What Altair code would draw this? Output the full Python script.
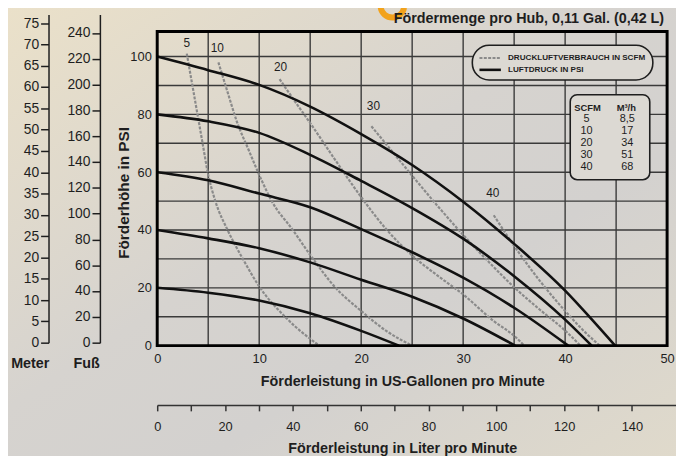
import altair as alt
import pandas as pd

# ---------------- data ----------------
# Air pressure curves (solid): flow in US gpm -> head in PSI
psi_levels = [100, 80, 60, 40, 20]
psi100_gpm = [0, 5, 10, 15, 20, 25, 30, 35, 40, 42.5, 44.9]
psi100_head = [100, 95.3, 90.2, 82.7, 73.2, 62.5, 49.8, 35.2, 19.0, 9.5, 0]
psi80_gpm = [0, 5, 10, 15, 20, 25, 30, 35, 40, 42.6]
psi80_head = [80, 77.6, 73.6, 66.0, 57.0, 47.6, 37.0, 24.0, 9.0, 0]
psi60_gpm = [0, 5, 10, 15, 20, 25, 30, 35, 40.3]
psi60_head = [60, 57.2, 52.6, 47.9, 40.3, 32.3, 23.5, 13.1, 0]
psi40_gpm = [0, 5, 10, 15, 20, 25, 30, 35.1]
psi40_head = [40, 37.1, 33.7, 28.8, 22.8, 16.9, 9.4, 0]
psi20_gpm = [0, 5, 10, 15, 20, 23.7]
psi20_head = [20, 18.3, 15.6, 11.2, 5.1, 0]

# Air consumption curves (dashed): SCFM
scfm_levels = [5, 10, 20, 30, 40]
scfm5_gpm = [2.9, 3.4, 3.95, 4.45, 4.95, 5.7, 6.9, 8.4, 10.0, 12.7, 15.9]
scfm5_head = [101, 91, 80, 70, 60, 50, 40, 30, 20.5, 9.4, 0]
scfm10_gpm = [6.0, 6.9, 7.8, 9.0, 10.25, 11.2, 13.3, 15.0, 17.5, 20.0, 22.5, 25.0]
scfm10_head = [98, 87.7, 77.6, 67.4, 57.1, 50.2, 40, 31.4, 20, 12, 5.0, 0]
scfm20_gpm = [12.0, 13.5, 15, 17.5, 20, 22.4, 25, 27.5, 30, 33, 35, 36]
scfm20_head = [92.2, 84.5, 77, 64, 51.4, 40.5, 31.2, 24.2, 17.7, 8.5, 3.4, 0]
scfm30_gpm = [21.0, 22.5, 25, 27.5, 30, 32.5, 35, 37.5, 40, 41.5]
scfm30_head = [75.9, 69.5, 58.8, 48.3, 38.3, 29.0, 20.2, 12.5, 5.2, 0]
scfm40_gpm = [33.0, 35, 37.5, 40, 42, 43.4]
scfm40_head = [45.1, 34.5, 22.5, 12.0, 4.5, 0]

# curve labels (data units)
label_text = ["5", "10", "20", "30", "40"]
label_gpm = [2.9, 5.9, 12.1, 21.2, 32.9]
label_psi = [104.7, 103.1, 96.2, 82.8, 52.7]

# SCFM -> m3/h table
table_scfm = ["5", "10", "20", "30", "40"]
table_m3h = ["8,5", "17", "34", "51", "68"]

# axes
gpm_ticks = [0, 10, 20, 30, 40, 50]
psi_ticks = [0, 20, 40, 60, 80, 100]
grid_gpm = [5, 10, 15, 20, 25, 30, 35, 40, 45]
grid_psi = [10, 20, 30, 40, 50, 60, 70, 80, 90, 100]
meter_ticks = list(range(0, 76, 5))
fuss_ticks = list(range(0, 241, 20))
liter_ticks = list(range(0, 141, 10))

title_text = "Fördermenge pro Hub, 0,11 Gal. (0,42 L)"
legend_dashed = "DRUCKLUFTVERBRAUCH IN SCFM"
legend_solid = "LUFTDRUCK IN PSI"

# ---------------- layout / style ----------------
W, H = 516, 318
X_MAX, Y_MAX = 50, 108.7
FONT = "Liberation Sans, Arial, Helvetica, sans-serif"
INK = "#1e1e1e"
GRID = "#3a3a3a"
DASH = "#8a8a8a"
BOXFILL = "#dcd9d3"


def xs():
    return alt.Scale(domain=[0, X_MAX], nice=False, zero=False)


def ysc():
    return alt.Scale(domain=[0, Y_MAX], nice=False, zero=False)


def X(f):
    return alt.X(f, scale=xs(), axis=None)


def Y(f):
    return alt.Y(f, scale=ysc(), axis=None)


def long_df(levels, xs_list, ys_list, name):
    rows = []
    for lvl, gx, gy in zip(levels, xs_list, ys_list):
        for i, (a, b) in enumerate(zip(gx, gy)):
            rows.append({"series": f"{lvl} {name}", "gpm": a, "psi": b, "order": i})
    return pd.DataFrame(rows)


solid_df = long_df(psi_levels,
                   [psi100_gpm, psi80_gpm, psi60_gpm, psi40_gpm, psi20_gpm],
                   [psi100_head, psi80_head, psi60_head, psi40_head, psi20_head], "PSI")
dash_df = long_df(scfm_levels,
                  [scfm5_gpm, scfm10_gpm, scfm20_gpm, scfm30_gpm, scfm40_gpm],
                  [scfm5_head, scfm10_head, scfm20_head, scfm30_head, scfm40_head], "SCFM")

one = pd.DataFrame({"k": [0]})

gradient = alt.LinearGradient(
    gradient="linear",
    stops=[alt.GradientStop(color="#ebe1c9", offset=0),
           alt.GradientStop(color="#d6d3cf", offset=0.45),
           alt.GradientStop(color="#d3d1cf", offset=0.65),
           alt.GradientStop(color="#e0dacb", offset=1)],
    x1=0, x2=1, y1=0, y2=1)

bg = alt.Chart(one).mark_rect(fill=gradient).encode(
    x=alt.value(-160), x2=alt.value(W + 20), y=alt.value(-30), y2=alt.value(H + 115))

logo = alt.Chart(one).mark_arc(radius=15, radius2=9, color="#f2a21b").encode(
    x=alt.value(238), y=alt.value(-26),
    theta=alt.value(1.75), theta2=alt.value(4.55))

vgrid = alt.Chart(pd.DataFrame({"gx": grid_gpm})).mark_rule(
    color=GRID, strokeWidth=1.4).encode(x=X("gx:Q"))
hgrid = alt.Chart(pd.DataFrame({"gy": grid_psi})).mark_rule(
    color=GRID, strokeWidth=1.4).encode(y=Y("gy:Q"))

x_axis = alt.Axis(values=gpm_ticks, orient="bottom", grid=False, ticks=False, domain=False,
                  labelPadding=7, labelFontSize=13, labelFont=FONT, labelColor=INK,
                  labelOverlap=False, labelFlush=False,
                  title="Förderleistung in US-Gallonen pro Minute",
                  titleFont=FONT, titleFontSize=14.5, titleFontWeight="bold", titleColor=INK,
                  titleX=248, titleY=36, titleAlign="center", titleBaseline="middle",
                  zindex=1)
y_axis = alt.Axis(values=psi_ticks, orient="left", grid=False, ticks=False, domain=False,
                  labelPadding=6, labelFontSize=13, labelFont=FONT, labelColor=INK,
                  labelOverlap=False, labelFlush=False,
                  title="Förderhöhe in PSI",
                  titleFont=FONT, titleFontSize=15.5, titleFontWeight="bold", titleColor=INK,
                  titleX=-34, titleY=163, titleAngle=270, titleAlign="center",
                  titleBaseline="middle", zindex=1)

dashed = alt.Chart(dash_df).mark_line(
    color=DASH, strokeWidth=2.2, strokeDash=[3, 1.4], interpolate="monotone").encode(
    x=X("gpm:Q"), y=Y("psi:Q"), detail="series:N", order="order:Q")

solid = alt.Chart(solid_df).mark_line(
    color="#111111", strokeWidth=2.6, interpolate="monotone").encode(
    x=alt.X("gpm:Q", scale=xs(), axis=x_axis),
    y=alt.Y("psi:Q", scale=ysc(), axis=y_axis),
    detail="series:N", order="order:Q")

labels = alt.Chart(pd.DataFrame({"t": label_text, "gx": label_gpm, "gy": label_psi})).mark_text(
    font=FONT, fontSize=12, color=INK, align="center", baseline="middle").encode(
    x=X("gx:Q"), y=Y("gy:Q"), text="t:N")

# legend pill (data units)
pill = alt.Chart(pd.DataFrame({"a": [30.9], "b": [48.6], "c": [91.9], "d": [103.9]})).mark_rect(
    fill=BOXFILL, stroke=INK, strokeWidth=1.6, cornerRadius=17).encode(
    x=X("a:Q"), x2="b:Q", y=Y("c:Q"), y2="d:Q")
leg_dash = alt.Chart(pd.DataFrame({"gx": [31.6, 33.7], "gy": [99.5, 99.5]})).mark_line(
    color=DASH, strokeWidth=2.2, strokeDash=[3, 1.4]).encode(x=X("gx:Q"), y=Y("gy:Q"))
leg_solid = alt.Chart(pd.DataFrame({"gx": [31.6, 33.7], "gy": [95.4, 95.4]})).mark_line(
    color="#111111", strokeWidth=2.6).encode(x=X("gx:Q"), y=Y("gy:Q"))
leg_text = alt.Chart(pd.DataFrame({"t": [legend_dashed, legend_solid],
                                   "gx": [34.4, 34.4], "gy": [99.5, 95.2]})).mark_text(
    font=FONT, fontSize=8.2, fontWeight="bold", color=INK, align="left",
    baseline="middle").encode(x=X("gx:Q"), y=Y("gy:Q"), text="t:N")

# SCFM / m3/h table
tbox = alt.Chart(pd.DataFrame({"a": [40.5], "b": [48.3], "c": [57.4], "d": [86.8]})).mark_rect(
    fill=BOXFILL, stroke=INK, strokeWidth=1.6, cornerRadius=7).encode(
    x=X("a:Q"), x2="b:Q", y=Y("c:Q"), y2="d:Q")
thead = alt.Chart(pd.DataFrame({"t": ["SCFM", "M³/h"], "gx": [42.2, 46.0],
                                "gy": [82.3, 82.3]})).mark_text(
    font=FONT, fontSize=9.5, fontWeight="bold", color=INK, align="center",
    baseline="middle").encode(x=X("gx:Q"), y=Y("gy:Q"), text="t:N")
row_y = [78.3 - 4.15 * i for i in range(len(table_scfm))]
tcol1 = alt.Chart(pd.DataFrame({"t": table_scfm, "gy": row_y})).transform_calculate(
    gx="42.1").mark_text(
    font=FONT, fontSize=11, color=INK, align="center", baseline="middle").encode(
    x=X("gx:Q"), y=Y("gy:Q"), text="t:N")
tcol2 = alt.Chart(pd.DataFrame({"t": table_m3h, "gy": row_y})).transform_calculate(
    gx="46.1").mark_text(
    font=FONT, fontSize=11, color=INK, align="center", baseline="middle").encode(
    x=X("gx:Q"), y=Y("gy:Q"), text="t:N")

frame = alt.Chart(pd.DataFrame({"a": [0], "b": [X_MAX], "c": [0], "d": [Y_MAX]})).mark_rect(
    filled=False, color="#000000", strokeWidth=3).encode(
    x=X("a:Q"), x2="b:Q", y=Y("c:Q"), y2="d:Q")

title = alt.Chart(one).mark_text(
    text=title_text, font=FONT, fontSize=14.5, fontWeight="bold", color=INK,
    align="right", baseline="alphabetic").encode(x=alt.value(W - 3), y=alt.value(-9))

side_axis = dict(grid=False, domainColor=INK, domainWidth=1.5, tickColor=INK, tickWidth=1.5,
                 tickSize=8, labelFont=FONT, labelFontSize=14, labelColor=INK, labelPadding=2,
                 labelOverlap=False, labelFlush=False, titleFont=FONT, titleFontSize=14.5,
                 titleFontWeight="bold", titleColor=INK, titleAngle=0, titleAlign="center",
                 titleBaseline="middle", zindex=1, orient="left")

meter = alt.Chart(pd.DataFrame({"m": [0, 75]})).mark_point(opacity=0, size=1).encode(
    y=alt.Y("m:Q", scale=alt.Scale(domain=[0, 77.0], range=[315, -17], nice=False, zero=False),
            axis=alt.Axis(values=meter_ticks, offset=110, title="Meter",
                          titleX=-19, titleY=336, **side_axis)))
fuss = alt.Chart(pd.DataFrame({"f": [0, 240]})).mark_point(opacity=0, size=1).encode(
    y=alt.Y("f:Q", scale=alt.Scale(domain=[0, 254.2], range=[315, -17], nice=False, zero=False),
            axis=alt.Axis(values=fuss_ticks, offset=58, title="Fuß",
                          titleX=-14, titleY=336, **side_axis)))
liter = alt.Chart(pd.DataFrame({"l": [0, 140]})).mark_point(opacity=0, size=1).encode(
    x=alt.X("l:Q", scale=alt.Scale(domain=[0, 153], range=[0, 525], nice=False, zero=False),
            axis=alt.Axis(values=liter_ticks, offset=60, orient="bottom", grid=False,
                          labelExpr="datum.value % 20 == 0 ? datum.label : ''",
                          domainColor="#333333", domainWidth=1.6, tickColor="#333333",
                          tickWidth=1.5, tickSize=6, labelFont=FONT, labelFontSize=13,
                          labelColor=INK, labelPadding=10, labelOverlap=False, labelFlush=False,
                          title="Förderleistung in Liter pro Minute", titleFont=FONT,
                          titleFontSize=14.5, titleFontWeight="bold", titleColor=INK,
                          titleX=248, titleY=44, titleAlign="center", titleBaseline="middle",
                          zindex=1)))

chart = alt.layer(bg, logo, vgrid, hgrid, dashed, solid, pill, leg_dash, leg_solid, leg_text,
                  tbox, thead, tcol1, tcol2, labels, frame, title,
                  meter, fuss, liter).resolve_scale(
    x="independent", y="independent").properties(
    width=W, height=H,
    autosize=alt.AutoSizeParams(type="none"),
    padding={"left": 151, "top": 21, "right": 9, "bottom": 109},
    background="#dcd8cf",
).configure_view(stroke=None)

chart.save("out.html", embed_options={"renderer": "svg", "actions": False})
